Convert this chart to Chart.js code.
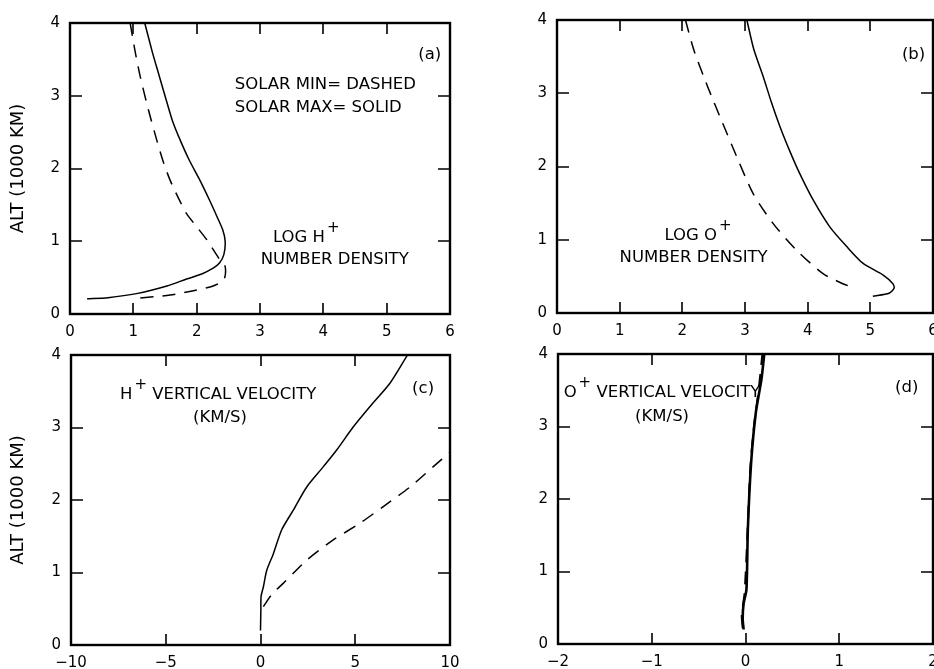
<!DOCTYPE html>
<html>
<head>
<meta charset="utf-8">
<script src="https://cdn.jsdelivr.net/npm/chart.js@4.4.0/dist/chart.umd.min.js"></script>
<style>
  html, body { margin: 0; padding: 0; background: #fff; overflow: hidden; }
  body { width: 934px; height: 669px; position: relative; }
  canvas { position: absolute; }
</style>
</head>
<body>
<canvas id="panelA" style="left:0;top:0"></canvas>
<canvas id="panelB" style="left:470px;top:0"></canvas>
<canvas id="panelC" style="left:0;top:330px"></canvas>
<canvas id="panelD" style="left:470px;top:330px"></canvas>
<script>
// (a) log H+ number density, solar max (solid) / solar min (dashed)
const hDensMaxX = [1.18, 1.30, 1.40, 1.51, 1.62, 1.74, 1.88, 2.05, 2.20, 2.32, 2.41, 2.45, 2.43, 2.36, 2.26, 2.08, 1.84, 1.53, 1.05, 0.60, 0.27];
const hDensMaxAlt = [4.0, 3.6, 3.3, 2.97, 2.65, 2.39, 2.12, 1.84, 1.57, 1.34, 1.16, 1.0, 0.82, 0.70, 0.63, 0.55, 0.48, 0.385, 0.28, 0.225, 0.21];
const hDensMinX = [0.95, 1.03, 1.11, 1.24, 1.37, 1.47, 1.58, 1.72, 1.84, 2.00, 2.16, 2.28, 2.37, 2.45, 2.43, 2.26, 1.95, 1.58, 1.05];
const hDensMinAlt = [4.0, 3.6, 3.26, 2.8, 2.39, 2.1, 1.84, 1.58, 1.38, 1.2, 1.02, 0.86, 0.74, 0.65, 0.47, 0.385, 0.32, 0.26, 0.215];

// (b) log O+ number density
const oDensMaxX = [3.03, 3.14, 3.29, 3.42, 3.56, 3.72, 3.87, 4.09, 4.35, 4.62, 4.88, 5.20, 5.36, 5.38, 5.30, 5.04];
const oDensMaxAlt = [4.0, 3.6, 3.23, 2.88, 2.54, 2.2, 1.91, 1.54, 1.18, 0.91, 0.68, 0.52, 0.40, 0.34, 0.27, 0.23];
const oDensMinX = [2.05, 2.18, 2.34, 2.47, 2.60, 2.87, 3.13, 3.45, 3.82, 4.24, 4.56, 4.72];
const oDensMinAlt = [4.0, 3.6, 3.23, 2.95, 2.68, 2.13, 1.63, 1.22, 0.86, 0.54, 0.40, 0.35];

// (c) H+ vertical velocity (km/s)
const hVelMaxX = [0.0, 0.02, 0.03, 0.15, 0.33, 0.68, 1.12, 1.73, 2.44, 3.32, 4.02, 4.90, 5.78, 6.83, 7.71, 7.75];
const hVelMaxAlt = [0.2, 0.5, 0.67, 0.8, 1.03, 1.26, 1.59, 1.86, 2.18, 2.46, 2.69, 3.01, 3.29, 3.61, 3.98, 4.0];
const hVelMinX = [0.15, 0.60, 1.20, 2.44, 3.84, 5.25, 6.48, 7.89, 9.12, 10.0];
const hVelMinAlt = [0.53, 0.70, 0.85, 1.17, 1.45, 1.68, 1.91, 2.18, 2.46, 2.66];

// (d) O+ vertical velocity (km/s)
const oVelMaxX = [-0.02, -0.03, -0.02, 0.01, 0.025, 0.06, 0.11, 0.17, 0.20];
const oVelMaxAlt = [0.2, 0.35, 0.56, 0.75, 1.58, 2.5, 3.19, 3.65, 4.0];
const oVelMinX = [-0.03, -0.04, -0.01, 0.02, 0.05, 0.09, 0.14, 0.18];
const oVelMinAlt = [0.22, 0.4, 0.7, 1.5, 2.4, 3.0, 3.5, 4.0];

// axis ranges and tick steps
const densTicks = [0, 6, 1];
const hVelTicks = [-10, 10, 5];
const oVelTicks = [-2, 2, 1];
const altTicks = [0, 4, 1];
const altTitle = 'ALT (1000 KM)';

// text placed inside each panel (positions in data units)
const notesA = [
  { text: '(a)', x: 5.68, y: 3.56, align: 'center' },
  { text: 'SOLAR MIN= DASHED', x: 2.6, y: 3.15, align: 'left' },
  { text: 'SOLAR MAX= SOLID', x: 2.6, y: 2.83, align: 'left' },
  { text: 'LOG H', sup: '+', x: 3.73, y: 1.05, align: 'center' },
  { text: 'NUMBER DENSITY', x: 4.18, y: 0.74, align: 'center' }
];
const notesB = [
  { text: '(b)', x: 5.69, y: 3.52, align: 'center' },
  { text: 'LOG O', sup: '+', x: 2.25, y: 1.05, align: 'center' },
  { text: 'NUMBER DENSITY', x: 2.18, y: 0.76, align: 'center' }
];
const notesC = [
  { text: '(c)', x: 8.58, y: 3.53, align: 'center' },
  { text: 'H', sup: '+', after: ' VERTICAL VELOCITY', x: -7.41, y: 3.45, align: 'left' },
  { text: '(KM/S)', x: -2.14, y: 3.13, align: 'center' }
];
const notesD = [
  { text: '(d)', x: 1.72, y: 3.54, align: 'center' },
  { text: 'O', sup: '+', after: ' VERTICAL VELOCITY', x: -1.94, y: 3.46, align: 'left' },
  { text: '(KM/S)', x: -0.89, y: 3.14, align: 'center' }
];

const FONT = '"DejaVu Sans", sans-serif';
const NOTE_SIZE = 16.5;

function pts(xs, ys) {
  return xs.map((v, i) => ({ x: v, y: ys[i] }));
}

// inward tick marks on all four sides plus the box
const frameTicks = {
  id: 'frameTicks',
  afterDatasetsDraw(chart) {
    const { ctx, chartArea: a, scales: { x, y } } = chart;
    ctx.save();
    ctx.strokeStyle = '#000';
    ctx.lineWidth = 1.6;
    ctx.beginPath();
    x.ticks.forEach(t => {
      if (t.value === x.min || t.value === x.max) return;
      const px = Math.round(x.getPixelForValue(t.value));
      ctx.moveTo(px, a.top); ctx.lineTo(px, a.top + 11);
      ctx.moveTo(px, a.bottom); ctx.lineTo(px, a.bottom - 11);
    });
    y.ticks.forEach(t => {
      if (t.value === y.min || t.value === y.max) return;
      const py = Math.round(y.getPixelForValue(t.value));
      ctx.moveTo(a.left, py); ctx.lineTo(a.left + 12, py);
      ctx.moveTo(a.right, py); ctx.lineTo(a.right - 12, py);
    });
    ctx.stroke();
    ctx.lineWidth = 2.4;
    ctx.strokeRect(a.left, a.top, a.right - a.left, a.bottom - a.top);
    ctx.restore();
  }
};

const notesPlugin = {
  id: 'notes',
  afterDraw(chart, args, opts) {
    const { ctx, scales: { x, y } } = chart;
    const main = NOTE_SIZE + 'px ' + FONT;
    const small = '15px ' + FONT;
    ctx.save();
    ctx.fillStyle = '#000';
    ctx.textBaseline = 'middle';
    ctx.textAlign = 'left';
    (opts.items || []).forEach(n => {
      ctx.font = main;
      const w1 = ctx.measureText(n.text).width;
      const w2 = n.after ? ctx.measureText(n.after).width : 0;
      ctx.font = small;
      const ws = n.sup ? ctx.measureText(n.sup).width + 2 : 0;
      let px = x.getPixelForValue(n.x);
      const py = y.getPixelForValue(n.y);
      if (n.align === 'center') px -= (w1 + ws + w2) / 2;
      ctx.font = main;
      ctx.fillText(n.text, px, py);
      if (n.after) ctx.fillText(n.after, px + w1 + ws, py);
      if (n.sup) {
        ctx.font = small;
        ctx.fillText(n.sup, px + w1 + 2, py - 10);
      }
    });
    ctx.restore();
  }
};

function makePanel(id, w, h, box, xr, solid, dashed, notes, showTitle, thick) {
  const cv = document.getElementById(id);
  cv.width = w; cv.height = h;
  cv.style.width = w + 'px'; cv.style.height = h + 'px';
  const minus = v => String(v).replace('-', '\u2212');
  return new Chart(cv, {
    type: 'scatter',
    data: {
      datasets: [
        { data: solid, showLine: true, borderColor: '#000', borderWidth: thick ? 2.6 : 1.5, pointRadius: 0, tension: 0.25 },
        { data: dashed, showLine: true, borderColor: '#000', borderWidth: thick ? 2 : 1.5, borderDash: [13, 9], pointRadius: 0, tension: 0.25 }
      ]
    },
    options: {
      responsive: false,
      animation: false,
      layout: { padding: { left: 0, top: box.top, right: w - box.right, bottom: 0 } },
      plugins: { legend: { display: false }, tooltip: { enabled: false }, notes: { items: notes } },
      scales: {
        x: {
          type: 'linear', min: xr[0], max: xr[1],
          grid: { display: false, drawTicks: false }, border: { display: false },
          ticks: { stepSize: xr[2], color: '#000', padding: 9, maxRotation: 0, font: { family: FONT, size: 15 }, callback: minus },
          afterFit: s => { s.height = h - box.bottom; }
        },
        y: {
          type: 'linear', min: altTicks[0], max: altTicks[1],
          grid: { display: false, drawTicks: false }, border: { display: false },
          ticks: { stepSize: altTicks[2], color: '#000', padding: 10, font: { family: FONT, size: 15 } },
          title: { display: showTitle, text: altTitle, color: '#000', padding: { top: 8, bottom: 0 }, font: { family: FONT, size: 18 } },
          afterFit: s => { s.width = box.left; }
        }
      }
    },
    plugins: [frameTicks, notesPlugin]
  });
}

makePanel('panelA', 470, 345, { left: 70, top: 23, right: 450, bottom: 314 }, densTicks,
  pts(hDensMaxX, hDensMaxAlt), pts(hDensMinX, hDensMinAlt), notesA, true, false);
makePanel('panelB', 490, 345, { left: 87, top: 20, right: 463, bottom: 313 }, densTicks,
  pts(oDensMaxX, oDensMaxAlt), pts(oDensMinX, oDensMinAlt), notesB, false, false);
makePanel('panelC', 470, 339, { left: 71, top: 25, right: 450, bottom: 315 }, hVelTicks,
  pts(hVelMaxX, hVelMaxAlt), pts(hVelMinX, hVelMinAlt), notesC, true, false);
makePanel('panelD', 490, 339, { left: 88, top: 24, right: 463, bottom: 314 }, oVelTicks,
  pts(oVelMaxX, oVelMaxAlt), pts(oVelMinX, oVelMinAlt), notesD, false, true);
</script>
</body>
</html>
